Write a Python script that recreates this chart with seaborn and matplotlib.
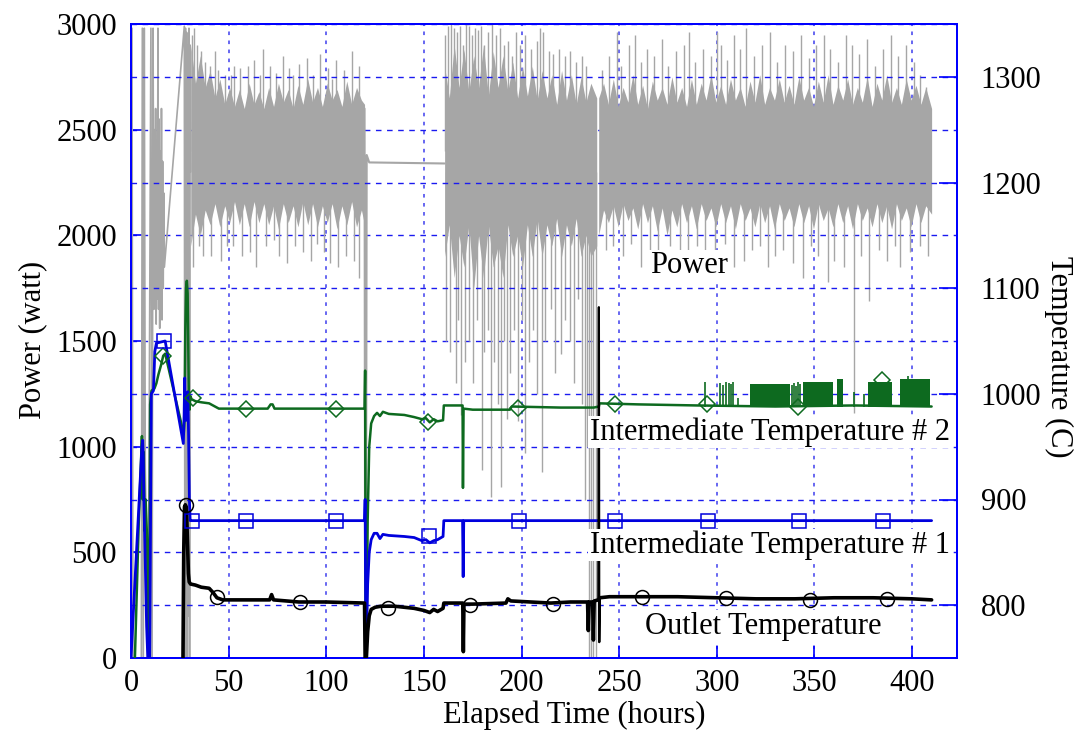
import matplotlib
matplotlib.use("Agg")
import matplotlib.pyplot as plt
import seaborn as sns

# ------------------------------------------------------------------ data
# Power (watt) - early start-up part (hours, watt)
pw_early_h = [0.0, 0.5, 1.0, 5.3, 5.8, 6.3, 6.8, 7.3, 8.8, 10.2, 10.8, 11.3, 11.7, 12.0,
              12.3, 12.6, 12.9, 13.2, 13.5, 13.8, 14.1, 14.4, 14.7, 15.0, 15.3, 15.6,
              15.9, 16.2, 16.5, 16.8, 17.1, 27.3, 27.6, 27.9, 28.2, 28.5, 28.8, 29.1,
              29.4, 29.7, 30.0, 30.3, 30.6]
pw_early_w = [0, 2980, 0, 0, 2980, 0, 2980, 900, 0, 2980, 0, 2980, 1650, 2500,
              1750, 2600, 1580, 2450, 1700, 2980, 1650, 2550, 1560, 2400, 1700, 2600,
              1600, 2350, 1750, 2200, 1850, 2990, 0, 2980, 300, 2960, 0, 2900,
              200, 2980, 0, 2900, 2300]
# Power - shutdown / flat hold segment
pw_flat_h = [119.6, 119.9, 120.3, 120.7, 122.0, 160.6]
pw_flat_w = [2600, 0, 0, 2380, 2345, 2340]
# Power - dense noisy band envelopes (hours, low, high)
band_a_h = [30.6, 33, 35.5, 38, 40.5, 43, 45.5, 48, 50.5, 53, 55.5, 58, 60.5, 63, 65.5,
            68, 70.5, 73, 75.5, 78, 80.5, 83, 85.5, 88, 90.5, 93, 95.5, 98, 100.5, 103,
            105.5, 108, 110.5, 113, 115.5, 118, 119.6]
band_a_hi = [2900, 2720, 2850, 2700, 2780, 2650, 2740, 2620, 2700, 2610, 2690, 2600,
             2720, 2620, 2680, 2600, 2700, 2610, 2720, 2630, 2690, 2600, 2710, 2620,
             2740, 2630, 2700, 2610, 2720, 2640, 2690, 2610, 2730, 2620, 2700, 2640,
             2620]
band_a_lo = [1950, 2100, 2000, 2120, 2050, 2150, 2040, 2140, 2060, 2160, 2050, 2150,
             2040, 2160, 2060, 2150, 2050, 2140, 2030, 2150, 2060, 2140, 2040, 2160,
             2050, 2150, 2040, 2140, 2060, 2150, 2030, 2140, 2050, 2160, 2040, 2120,
             2050]
band_b_h = [160.6, 163, 165.5, 168, 170.5, 173, 175.5, 178, 180.5, 183, 185.5, 188,
            190.5, 193, 195.5, 198, 200.5, 203, 205.5, 208, 210.5, 213, 215.5, 218,
            220.5, 223, 225.5, 228, 230.5, 233, 235.5, 238.5]
band_b_hi = [2800, 2650, 2900, 2700, 2880, 2680, 2850, 2700, 2900, 2660, 2870, 2700,
             2850, 2680, 2820, 2650, 2800, 2660, 2800, 2640, 2780, 2650, 2760, 2620,
             2780, 2640, 2760, 2620, 2750, 2630, 2720, 2650]
band_b_lo = [1900, 2050, 1800, 2000, 1850, 2050, 1750, 2000, 1800, 2050, 1850, 1950,
             1800, 2050, 1900, 2000, 1850, 2050, 1900, 2080, 1900, 2050, 1950, 2080,
             1900, 2050, 1950, 2080, 1900, 2000, 1900, 1950]
band_c_h = [239.5, 242, 244.5, 247, 249.5, 252, 254.5, 257, 259.5, 262, 264.5, 267,
            269.5, 272, 274.5, 277, 279.5, 282, 284.5, 287, 289.5, 292, 294.5, 297,
            299.5, 302, 304.5, 307, 309.5, 312, 314.5, 317, 319.5, 322, 324.5, 327,
            329.5, 332, 334.5, 337, 339.5, 342, 344.5, 347, 349.5, 352, 354.5, 357,
            359.5, 362, 364.5, 367, 369.5, 372, 374.5, 377, 379.5, 382, 384.5, 387,
            389.5, 392, 394.5, 397, 399.5, 402, 404.5, 407, 410]
band_c_hi = [2650, 2720, 2620, 2740, 2610, 2700, 2630, 2760, 2620, 2710,
             2600, 2730, 2640, 2700, 2620, 2750, 2630, 2700, 2610, 2740,
             2620, 2720, 2640, 2760, 2630, 2710, 2620, 2740, 2640, 2700,
             2610, 2730, 2630, 2760, 2620, 2700, 2640, 2740, 2630, 2710,
             2620, 2750, 2640, 2700, 2610, 2730, 2630, 2760, 2620, 2710,
             2640, 2740, 2620, 2700, 2630, 2750, 2610, 2720, 2640, 2760,
             2630, 2700, 2620, 2740, 2640, 2710, 2620, 2700, 2600]
band_c_lo = [2000, 2120, 2060, 2140, 2040, 2150, 2070, 2130, 2030, 2150,
             2060, 2140, 2020, 2130, 2000, 2120, 2040, 2150, 2060, 2140,
             2030, 2150, 2070, 2130, 2040, 2150, 2060, 2140, 2030, 2150,
             2070, 2130, 2040, 2150, 2060, 2140, 2030, 2150, 2070, 2130,
             2040, 2150, 2060, 2140, 2030, 2150, 2070, 2130, 2040, 2150,
             2060, 2140, 2030, 2150, 2070, 2130, 2040, 2150, 2060, 2140,
             2030, 2150, 2070, 2130, 2040, 2150, 2060, 2140, 2100]
# Power - individual spikes (hours, tip watt)
spk_up_h = [31, 32.5, 34, 36, 38, 40.5, 43, 44.5, 48, 51, 53, 56, 60, 63, 66, 67.5, 71,
            74, 78, 81, 83, 86, 90, 93, 97, 101, 103, 105, 109, 113, 117,
            161, 162.5, 164, 165.5, 167, 168.5, 170, 171.5, 173, 174.5, 176, 177.5,
            179, 181, 183, 185, 187, 189, 191, 193, 195, 197, 199, 202, 205, 208,
            209.5, 211, 214, 216, 219, 222, 225, 228, 231, 233,
            241, 245, 249, 251, 255, 258, 261, 264, 268, 272, 275, 279, 283, 286,
            289, 293, 297, 300, 302, 305, 309, 312, 315, 319, 323, 327, 331, 335,
            339, 343, 347, 351, 355, 358, 362, 366, 369, 373, 377, 381, 385, 389,
            393, 397, 401, 404, 407]
spk_up_w = [2950, 2980, 2900, 2870, 2820, 2800, 2870, 2780, 2760, 2760, 2800, 2790,
            2800, 2830, 2760, 2880, 2800, 2770, 2850, 2790, 2760, 2810, 2840, 2760,
            2860, 2790, 2740, 2830, 2780, 2870, 2800,
            2950, 2990, 3000, 2980, 2960, 2990, 2900, 3000, 2990, 2950, 2980, 2970,
            2990, 2900, 2960, 3000, 2950, 2980, 2900, 2920, 2850, 2960, 2900, 2950,
            2880, 2920, 2980, 2960, 2870, 2860, 2880, 2850, 2870, 2820, 2850, 2800,
            2780, 2850, 2960, 2800, 2900, 2950, 2820, 2880, 2850, 2930, 2800, 2870,
            2900, 2960, 2820, 2880, 2850, 2960, 2900, 2830, 2950, 2880, 2980, 2850,
            2900, 2960, 2820, 2900, 2870, 2950,
            2840, 2900, 2950, 2880, 2820, 2950, 2900, 2860, 2930, 2800, 2880, 2950,
            2850, 2900, 2820, 2760, 2700]
spk_dn_h = [32, 35, 37, 41, 46, 49, 52, 57, 61, 64, 69, 73, 76, 80, 84, 88, 92, 95,
            99, 102, 106, 110, 114, 117,
            161.5, 163.5, 166.5, 167.5, 169, 171, 173, 175, 177, 179.5, 181, 183,
            184.5, 186, 188, 189.5, 191, 192.5, 194, 196, 198, 200, 202, 204, 206,
            208, 210.5, 212, 215, 217, 220, 222.5, 225, 227, 229, 231, 232.5, 233.5,
            234.3, 235.5, 236.8, 238.2,
            243, 247, 252, 256, 261, 266, 270, 276, 281, 285, 290, 294, 299, 304,
            309, 314, 318, 322, 326, 330, 334, 339, 344, 348, 352, 357, 360, 365,
            370, 374, 378, 383, 387, 391, 394, 399, 404, 408]
spk_dn_w = [1850, 1950, 1900, 1900, 1880, 1950, 1950, 1900, 1920, 1850, 1950, 1980,
            1900, 1870, 1950, 1920, 1880, 1960, 1920, 1870, 1850, 1900, 1880, 1800,
            1500, 1450, 1300, 1600, 1150, 1400, 1500, 1300, 1600, 890, 1450, 1550,
            760, 1400, 1200, 810, 1500, 1130, 1350, 1550, 1120, 1600, 970, 1400,
            1550, 1250, 880, 1500, 1650, 1350, 1440, 1600, 1500, 1300, 1700, 1200,
            750, 1000, 0, 0, 0, 0,
            1930, 1950, 1900, 1960, 1850, 1920, 1880, 1950, 1800, 1880, 1950, 1790,
            1900, 1960, 1850, 1880, 1930, 1950, 1850, 1900, 1930, 1870, 1800, 1950,
            1900, 1780, 1880, 1850, 1160, 1900, 1690, 1930, 1880, 1950, 1850, 1920,
            1950, 1900]

# Intermediate Temperature # 2 (green), hours / deg C
t2_h = [2.0, 4.0, 5.0, 5.6, 6.0, 6.5, 7.0, 7.5, 8.3, 8.8, 9.3, 9.8, 10.5, 12.0, 13.0,
        14.0, 15.5, 16.5, 17.5, 27.0, 27.4, 27.8, 28.2, 28.6, 29.0, 29.3, 29.6, 30.0,
        30.4, 31.0, 33.0, 36.0, 40.0, 43.0, 45.0, 70.0, 71.5, 72.5, 73.5, 100.0,
        119.6, 119.9, 120.2, 120.6, 121.2, 122.0, 123.0, 124.5, 126.0, 127.5, 129.0,
        132.0, 140.0, 145.0, 149.0, 151.0, 153.0, 155.0, 157.0, 159.8, 160.2, 169.8,
        170.0, 170.3, 175.0, 194.0, 195.0, 220.0, 237.0, 239.6, 239.9, 260.0, 290.0,
        330.0, 370.0, 410.0]
t2_T = [750, 880, 930, 960, 900, 945, 870, 900, 860, 750, 750, 990, 1003, 1005, 1010,
        1018, 1028, 1036, 1038, 962, 975, 1060, 1100, 1107, 1095, 1050, 1000, 985,
        998, 995, 993, 992, 991, 988, 986, 986, 990, 990, 986, 986,
        986, 1022, 750, 750, 880, 950, 972, 979, 982, 979, 983,
        981, 980, 978, 976, 977, 973, 976, 974, 975, 989, 989,
        911, 986, 985, 985, 988, 987, 987, 988, 991, 990, 989,
        988, 989, 988]
# green noisy blocks and spikes in the late part
g_blk_start = [317.0, 344.2, 361.6, 377.5, 393.9]
g_blk_end = [337.5, 359.5, 364.7, 389.6, 409.2]
g_blk_top = [1009, 1011, 1014, 1011, 1014]
g_spk_h = [294.0, 301.7, 303.0, 304.5, 306.0, 307.5, 308.5, 311.0, 338.5, 339.5,
           340.5, 341.5, 342.5, 370.0, 375.5, 398.0]
g_spk_T = [1011, 1010, 1008, 1011, 1010, 1009, 1011, 996, 1008, 1010, 1007, 1011,
           1009, 1002, 1000, 1017]

# Intermediate Temperature # 1 (blue)
t1_h = [0.0, 5.6, 6.0, 6.3, 6.6, 7.2, 8.0, 8.6, 9.6, 10.4, 11.5, 12.2, 13.0, 17.5,
        26.8, 27.2, 27.5, 27.9, 28.3, 28.7, 29.1, 29.5, 29.9, 30.3, 31.2, 119.6,
        119.9, 120.3, 121.2, 122.0, 123.0, 124.5, 126.0, 127.5, 129.0, 132.0, 140.0,
        145.0, 149.0, 151.0, 153.0, 155.0, 157.0, 159.8, 160.2, 169.8, 170.1, 170.4,
        410.0]
t1_T = [750, 950, 956, 940, 900, 850, 780, 750, 750, 1000, 1003, 1040, 1048, 1050,
        953, 980, 1015, 975, 1000, 975, 1002, 960, 900, 880, 880, 880,
        900, 750, 820, 850, 862, 868, 868, 863, 867, 866, 865,
        864, 861, 862, 859, 861, 862, 865, 880, 880, 827, 880,
        880]

# Outlet Temperature (black)
to_h = [26.6, 27.0, 27.4, 27.8, 28.3, 28.6, 29.0, 29.4, 29.8, 30.5, 33.0, 36.0, 40.0,
        42.0, 44.0, 47.0, 60.0, 71.0, 72.0, 73.0, 86.0, 100.0, 119.6, 119.9, 120.4,
        121.2, 122.0, 123.0, 125.0, 128.0, 135.0, 145.0, 150.0, 153.0, 155.0, 157.0,
        159.8, 160.2, 169.9, 170.2, 170.5, 175.0, 192.0, 193.0, 194.5, 215.0, 225.0,
        233.8, 234.2, 234.6, 236.4, 236.8, 237.2, 239.3, 240.1, 245.0,
        262.0, 280.0, 300.0, 320.0, 340.0, 360.0, 380.0, 400.0, 410.0]
to_T = [745, 850, 893, 895, 893, 880, 855, 830, 822, 820, 819, 817, 816,
        812, 807, 805, 805, 805, 810, 805, 803, 803, 802, 750, 745,
        775, 790, 796, 798, 799, 799, 797, 795, 793, 796, 794,
        797, 802, 802, 756, 801, 801, 802, 806, 804, 802, 803,
        803, 776, 803, 803, 767, 804, 805, 807, 808,
        808, 808, 807, 806, 806, 807, 807, 806, 805]
# thin sensor glitch spike of the outlet temperature
to_spike_h = [239.3, 239.6, 239.8, 240.1]
to_spike_T = [805, 1082, 765, 807]

# markers (hours, deg C)
mk_circ_h = [28.0, 44.0, 86.5, 131.6, 173.6, 216.0, 261.7, 304.7, 347.8, 387.0]
mk_circ_T = [895, 808, 803, 797, 800, 801, 808, 807, 805, 806]
mk_sq_h = [17.0, 31.2, 58.9, 105.0, 152.6, 198.7, 248.0, 295.5, 342.0, 385.0]
mk_sq_T = [1050, 880, 880, 880, 865, 880, 880, 880, 880, 880]
mk_dia_h = [16.6, 32.0, 58.9, 105.0, 152.0, 198.0, 248.0, 295.0, 341.6, 384.6]
mk_dia_T = [1036, 996, 986, 986, 973, 987, 990, 990, 988, 1013]

# labels
series_labels = ["Power", "Intermediate Temperature # 2",
                 "Intermediate Temperature # 1", "Outlet Temperature"]
label_h = [265.8, 235.0, 235.0, 263.3]
label_w = [1855, 1070, 535, 151]
x_ticks = [0, 50, 100, 150, 200, 250, 300, 350, 400]
y_ticks_w = [0, 500, 1000, 1500, 2000, 2500, 3000]
y_ticks_T = [800, 900, 1000, 1100, 1200, 1300]

# ------------------------------------------------------------------ style
sns.set_theme(style="white")
plt.rcParams["font.family"] = ["Liberation Serif", "DejaVu Serif"]
plt.rcParams["text.color"] = "black"
plt.rcParams["axes.labelcolor"] = "black"

GRAY = "#a6a6a6"
GREEN = "#0d6a1f"
BLUE = "#0000dd"
AXBLUE = "#0000ff"
FS = 22

fig = plt.figure(figsize=(10.78, 7.34), dpi=100)
ax = fig.add_axes([131 / 1078, 1 - 658 / 734, 826 / 1078, 634 / 734])
ax2 = ax.twinx()

# ---- power (left axis)
for bh, lo, hi in [(band_a_h, band_a_lo, band_a_hi),
                   (band_b_h, band_b_lo, band_b_hi),
                   (band_c_h, band_c_lo, band_c_hi)]:
    ax.fill_between(bh, lo, hi, color=GRAY, lw=0, zorder=1)
ax.vlines(spk_up_h, 2400, spk_up_w, color=GRAY, lw=1.0, zorder=1)
ax.vlines(spk_dn_h, 2300, spk_dn_w, color=GRAY, lw=1.0, zorder=1)
sns.lineplot(x=pw_early_h, y=pw_early_w, ax=ax, sort=False, estimator=None,
             color=GRAY, lw=1.2, zorder=1)
sns.lineplot(x=pw_flat_h, y=pw_flat_w, ax=ax, sort=False, estimator=None,
             color=GRAY, lw=1.5, zorder=1)

# ---- temperatures (right axis)
for s, e, t in zip(g_blk_start, g_blk_end, g_blk_top):
    ax2.fill_between([s, e], [988, 988], [t, t], color=GREEN, lw=0, zorder=2)
ax2.vlines(g_spk_h, 988, g_spk_T, color=GREEN, lw=1.2, zorder=2)
sns.lineplot(x=t2_h, y=t2_T, ax=ax2, sort=False, estimator=None, color=GREEN,
             lw=1.8, zorder=3)
sns.lineplot(x=t1_h, y=t1_T, ax=ax2, sort=False, estimator=None, color=BLUE,
             lw=2.0, zorder=3)
sns.lineplot(x=to_h, y=to_T, ax=ax2, sort=False, estimator=None, color="black",
             lw=2.6, zorder=4)
sns.lineplot(x=to_spike_h, y=to_spike_T, ax=ax2, sort=False, estimator=None,
             color="black", lw=1.6, zorder=4)
for mh, mt, mk, col, ms in [(mk_dia_h, mk_dia_T, "D", GREEN, 8),
                            (mk_sq_h, mk_sq_T, "s", BLUE, 10),
                            (mk_circ_h, mk_circ_T, "o", "black", 10)]:
    sns.lineplot(x=mh, y=mt, ax=ax2, sort=False, estimator=None, linestyle="none",
                 marker=mk, markersize=ms, markerfacecolor="none",
                 markeredgecolor=col, markeredgewidth=1.1, zorder=5)

for txt, th, tw in zip(series_labels, label_h, label_w):
    ax2.text(th, tw, txt, transform=ax.transData, fontsize=FS, ha="left",
             va="center", zorder=10, color="black",
             bbox=dict(facecolor="white", edgecolor="none", pad=1.0))

# ---- axes
ax.set_xlim(0, 423)
ax.set_ylim(0, 3000)
ax2.set_ylim(750, 1350)
ax.set_xticks(x_ticks)
ax.set_yticks(y_ticks_w)
ax2.set_yticks(y_ticks_T)

ax.set_axisbelow(True)
ax.grid(True, axis="x", color="#5b5bf0", linestyle=(0, (2, 3)), lw=1.3)
ax.grid(True, axis="y", color="#1a1af0", linestyle=(0, (4, 4)), lw=1.0)
ax2.grid(True, axis="y", color="#1a1af0", linestyle=(0, (4, 4)), lw=1.0)
ax2.grid(False, axis="x")

for a in (ax, ax2):
    for sp in a.spines.values():
        sp.set_color(AXBLUE)
        sp.set_linewidth(1.4)
        sp.set_visible(True)

ax.tick_params(axis="both", direction="in", length=9, width=1.2, color=AXBLUE,
               labelsize=FS, labelcolor="black", left=True, bottom=True)
ax.tick_params(axis="y", pad=10)
ax.tick_params(axis="x", pad=8)
ax2.tick_params(axis="y", direction="in", length=13, width=1.2, color=AXBLUE,
                labelsize=FS, labelcolor="black", right=True, pad=17)

ax.set_xlabel("Elapsed Time (hours)", fontsize=FS, color="black")
ax.set_ylabel("Power (watt)", fontsize=FS, color="black")
ax2.set_ylabel("Temperature (C)", fontsize=FS, rotation=270, va="center",
               color="black")
ax.xaxis.set_label_coords((574 - 131) / 826, (658 - 700) / 634)
ax.yaxis.set_label_coords((47 - 131) / 826, (658 - 340) / 634)
ax2.yaxis.set_label_coords((1059 - 131) / 826, (658 - 357) / 634)

fig.savefig("out.png", dpi=100)
